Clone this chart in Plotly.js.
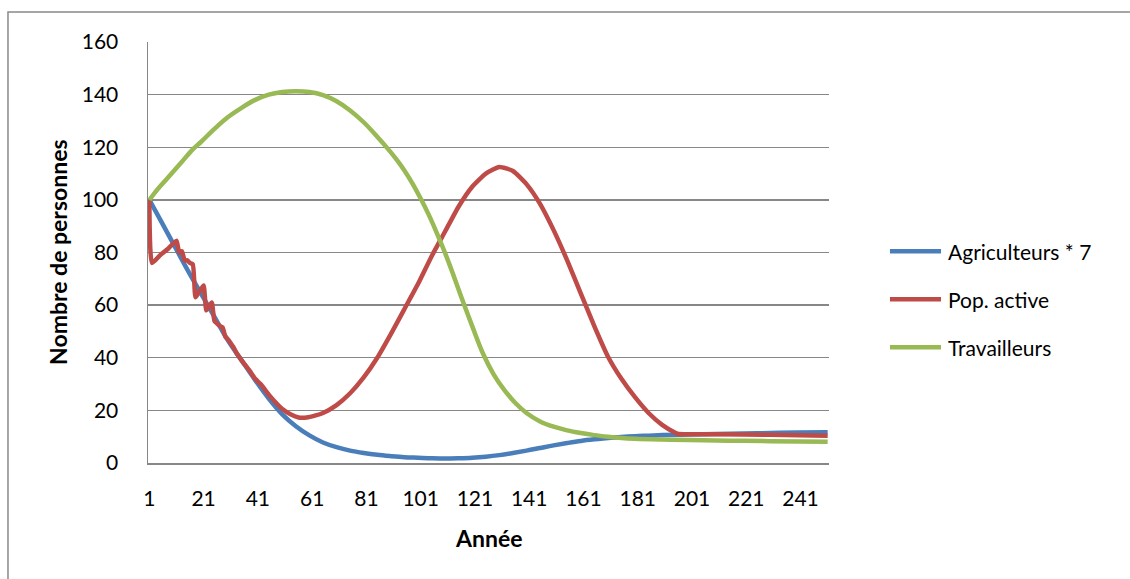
<!DOCTYPE html>
<html>
<head>
<meta charset="utf-8">
<script src="https://cdn.plot.ly/plotly-3.0.1.min.js"></script>
<style>html,body{margin:0;padding:0;background:#fff;}#chart{width:1130px;height:579px;}</style>
</head>
<body>
<div id="chart"></div>
<script>
const seriesNames = ["Agriculteurs * 7", "Pop. active", "Travailleurs"];
const seriesColors = ["#4A7EBB", "#BE4B48", "#98B954"];
const xTickVals = [1, 21, 41, 61, 81, 101, 121, 141, 161, 181, 201, 221, 241];

const blueYears = [1,5,10,15,20,25,30,35,40,45,50,55,60,65,70,75,80,85,90,95,100,105,110,115,120,125,130,135,140,145,150,155,160,165,170,175,180,185,190,200,210,220,230,240,251];
const agriculteurs = [100,92.5,83,73.5,64.5,55.5,46.5,39,31.5,24.5,18.5,14,10.5,7.8,6,4.7,3.8,3.1,2.6,2.2,2,1.8,1.7,1.8,2,2.4,3,3.8,4.7,5.7,6.7,7.6,8.4,9,9.5,9.9,10.2,10.4,10.6,10.8,11,11.2,11.4,11.6,11.7];

const redYears = [1,2,5,8,11,12,13,14,15,16,17,18,19,20,21,22,23,24,25,26,27,28,29,30,31,32,33,34,35,38,40,42,45,48,50,53,56,59,62,65,70,75,80,85,90,95,100,105,110,115,120,125,130,135,140,145,150,155,160,165,170,175,180,185,190,195,196,210,230,251];
const popActive = [100,76,79,81.5,84.5,80,80.5,77,77,76,75.5,63,64.5,66,67.5,58,59.5,61,54,53,52,51.5,48,47,45.5,44,42,40.5,39,35,32,30,26,22.5,20.5,18.5,17.3,17.3,18,19,22,26.5,32.5,40,49,58.5,68,78.5,88,97.5,105,110,112.5,111,106,98.5,88.5,77,64.5,52,40.5,32,25,19,14.5,11.4,11,10.9,10.7,10.4];

const greenYears = [1,4,7,10,13,17,20,25,30,35,40,45,50,55,60,65,70,75,80,85,89,92,95,98,101,104,107,110,113,116,120,124,128,132,136,140,145,150,155,160,165,170,175,180,190,200,215,230,251];
const travailleurs = [100,104,107.5,111,114.5,119.2,122,127,131.5,135,138,140,141,141.3,141,139.8,137.5,134,129.5,124,119.3,115.5,111.2,106.2,100.5,94.3,87.3,79.8,71.6,63,52,41.5,33.5,27.5,22.7,19,15.8,13.8,12.4,11.4,10.6,10,9.5,9.2,8.9,8.7,8.5,8.3,8.1];

const FONT = "Lato, 'Open Sans', sans-serif";

const traces = [
  {x: blueYears, y: agriculteurs, name: seriesNames[0], mode: "lines", line: {color: seriesColors[0], width: 4.5, shape: "spline", smoothing: 1}},
  {x: redYears, y: popActive, name: seriesNames[1], mode: "lines", line: {color: seriesColors[1], width: 4.5, shape: "spline", smoothing: 0.5}},
  {x: greenYears, y: travailleurs, name: seriesNames[2], mode: "lines", line: {color: seriesColors[2], width: 4.5, shape: "spline", smoothing: 1}}
];

// manual legend placement (paper coordinates of the plot area)
const legendY = [0.503, 0.389, 0.275];
const legendShapes = seriesNames.map((n, i) => ({type: "line", xref: "paper", yref: "paper", x0: 1.0895, x1: 1.1645, y0: legendY[i], y1: legendY[i], line: {color: seriesColors[i], width: 4.5}}));
const legendTexts = seriesNames.map((n, i) => ({text: n, xref: "paper", yref: "paper", x: 1.1718, y: legendY[i], xanchor: "left", yanchor: "middle", showarrow: false, font: {family: FONT, size: 21, color: "#000"}}));

const layout = {
  width: 1130, height: 579,
  margin: {l: 148, r: 301, t: 42, b: 116},
  paper_bgcolor: "#fff", plot_bgcolor: "#fff",
  font: {family: FONT, size: 21, color: "#000"},
  showlegend: false,
  xaxis: {range: [0.5, 251.5], tickmode: "array", tickvals: xTickVals, ticktext: xTickVals.map(String), showgrid: false, zeroline: false, showline: true, linecolor: "#878787", linewidth: 1.5, ticks: "", ticklabelstandoff: 16, tickfont: {family: FONT, size: 21}},
  yaxis: {range: [0, 160], dtick: 20, tick0: 0, showgrid: true, gridcolor: "#878787", gridwidth: 1.3, zeroline: false, showline: true, linecolor: "#878787", linewidth: 1.5, ticks: "", ticklabelstandoff: 24, tickfont: {family: FONT, size: 21}},
  annotations: [
    {text: "<b>Année</b>", xref: "paper", yref: "paper", x: 0.5, y: -0.178, xanchor: "center", yanchor: "middle", showarrow: false, font: {family: FONT, size: 23}},
    {text: "<b>Nombre de personnes</b>", xref: "paper", yref: "paper", x: -0.133, y: 0.5, xanchor: "center", yanchor: "middle", textangle: -90, showarrow: false, font: {family: FONT, size: 23}}
  ].concat(legendTexts),
  shapes: [
    {type: "rect", xref: "paper", yref: "paper", x0: -0.2056, x1: 2, y0: -1, y1: 1.0713, line: {color: "#898989", width: 1.5}, fillcolor: "rgba(0,0,0,0)", layer: "below"}
  ].concat(legendShapes)
};

Plotly.newPlot("chart", traces, layout, {displayModeBar: false, staticPlot: true});
</script>
</body>
</html>
